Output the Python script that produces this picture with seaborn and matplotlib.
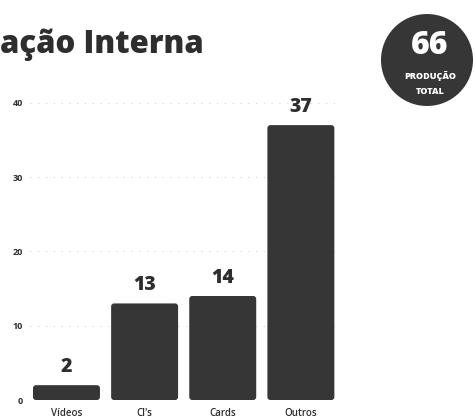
import matplotlib
matplotlib.use("Agg")
import matplotlib.pyplot as plt
from matplotlib.patches import Circle, FancyBboxPatch
import seaborn as sns

# Production counts by type
categories = ["Vídeos", "Cl's", "Cards", "Outros"]
values = [2, 13, 14, 37]
y_ticks = [0, 10, 20, 30, 40]
title = "ação Interna"
total_value = 66
total_label = ["PRODUÇÃO", "TOTAL"]

sns.set_theme(style="white")
plt.rcParams["font.family"] = ["Open Sans", "DejaVu Sans"]

ink = "#2e2e2e"
bar_color = "#363636"

fig = plt.figure(figsize=(4.76, 4.19), dpi=100)
fig.patch.set_facecolor("white")
ax = fig.add_axes([0.063, 0.0453, 0.651, 0.727])

sns.barplot(x=categories, y=values, color=bar_color, saturation=1,
            width=0.857, ax=ax, zorder=3)

ax.set_xlim(-0.467, 3.499)
ax.set_ylim(0, 41)

# soften the bar corners slightly
px_x = ax.get_window_extent().width / (3.499 + 0.467)
px_y = ax.get_window_extent().height / 41
for rect in list(ax.containers[0]):
    rb = FancyBboxPatch((rect.get_x(), rect.get_y()), rect.get_width(),
                        rect.get_height(),
                        boxstyle=f"round,pad=0,rounding_size={3 / px_x}",
                        mutation_aspect=px_x / px_y,
                        facecolor=bar_color, edgecolor="none", zorder=3)
    ax.add_patch(rb)
    rect.set_visible(False)

ax.set_yticks(y_ticks)
ax.set_yticklabels([str(t) for t in y_ticks], fontsize=6.5,
                   fontweight="bold", color=ink)
ax.tick_params(axis="both", length=0)
ax.tick_params(axis="y", pad=5)
ax.tick_params(axis="x", pad=6, labelsize=7, labelcolor=ink)
for lbl in ax.get_xticklabels():
    lbl.set_fontweight("semibold")
ax.set_xlabel("")
ax.set_ylabel("")
for s in ax.spines.values():
    s.set_visible(False)

# faint dotted guides
for t in y_ticks[1:]:
    ax.axhline(t, color="#d6d6d6", lw=0.8, ls=(0, (1, 6)), zorder=1)

ax.bar_label(ax.containers[0], labels=[str(v) for v in values],
             padding=6, fontsize=14, fontweight="heavy", color=ink)

# title, starting at the left edge
fig.text(0.0, 1 - 53 / 419, title, ha="left", va="baseline",
         fontsize=22.5, fontweight="heavy", color=ink)

# total badge
badge = Circle((427 / 100, (419 - 60) / 100), 0.46,
               transform=fig.dpi_scale_trans,
               facecolor=bar_color, edgecolor="none", zorder=5)
fig.patches.append(badge)
fig.text(430 / 476, 1 - 46 / 419, str(total_value), ha="center", va="center",
         fontsize=23, fontweight="heavy", color="white", zorder=6)
fig.text(430 / 476, 1 - 76 / 419, total_label[0], ha="center", va="center",
         fontsize=6.5, fontweight="heavy", color="white", zorder=6)
fig.text(430 / 476, 1 - 91 / 419, total_label[1], ha="center", va="center",
         fontsize=6.5, fontweight="heavy", color="white", zorder=6)

fig.savefig("out.png", dpi=100)
